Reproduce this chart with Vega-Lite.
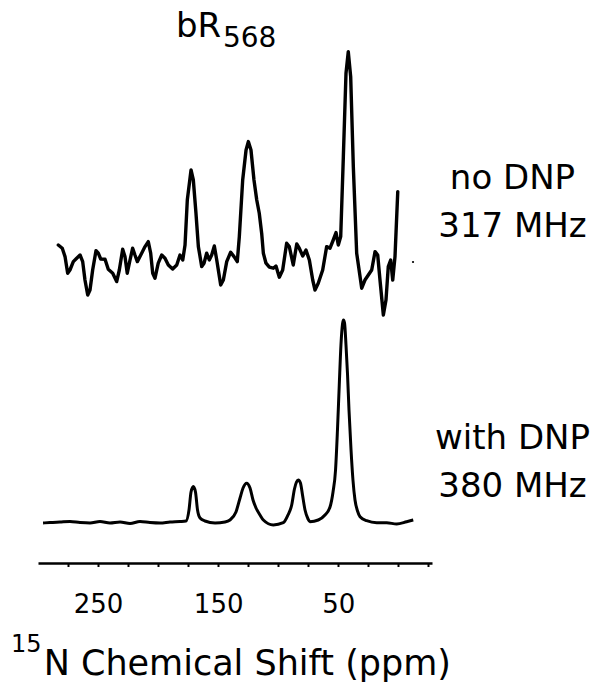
{
  "$schema": "https://vega.github.io/schema/vega-lite/v6.json",
  "width": 394,
  "height": 563,
  "autosize": {"type": "none"},
  "padding": {"left": 38, "top": 0, "right": 169, "bottom": 132},
  "background": "white",
  "config": {"view": {"stroke": null}},
  "datasets": {
    "noDNP": [
      {"ppm":283.1,"intensity":139},{"ppm":279.8,"intensity":137.4},{"ppm":277.5,"intensity":133.2},{"ppm":275.3,"intensity":124.9},{"ppm":273.4,"intensity":126.5},{"ppm":270.6,"intensity":130.7},{"ppm":267.8,"intensity":132.4},{"ppm":265.0,"intensity":134},{"ppm":262.8,"intensity":130.7},{"ppm":260.9,"intensity":121.5},{"ppm":258.6,"intensity":114},{"ppm":256.7,"intensity":116.5},{"ppm":254.5,"intensity":126.5},{"ppm":251.7,"intensity":136.2},{"ppm":249.8,"intensity":134.9},{"ppm":247.8,"intensity":132},{"ppm":244.2,"intensity":131.9},{"ppm":241.5,"intensity":126.9},{"ppm":237.8,"intensity":124.9},{"ppm":234.5,"intensity":120.7},{"ppm":232.3,"intensity":126.5},{"ppm":229.5,"intensity":136.9},{"ppm":227.6,"intensity":133.2},{"ppm":225.7,"intensity":124.9},{"ppm":223.4,"intensity":131.5},{"ppm":221.2,"intensity":137.4},{"ppm":219.3,"intensity":134},{"ppm":217.3,"intensity":130.7},{"ppm":213.7,"intensity":134.9},{"ppm":210.9,"intensity":138.2},{"ppm":208.2,"intensity":140.7},{"ppm":206.2,"intensity":134.9},{"ppm":204.5,"intensity":124.9},{"ppm":202.6,"intensity":122.4},{"ppm":199.9,"intensity":129.9},{"ppm":197.0,"intensity":134},{"ppm":194.3,"intensity":132.4},{"ppm":191.5,"intensity":129},{"ppm":187.9,"intensity":127},{"ppm":184.5,"intensity":129},{"ppm":181.8,"intensity":134},{"ppm":179.5,"intensity":131.5},{"ppm":177.6,"intensity":139},{"ppm":175.7,"intensity":161.5},{"ppm":172.6,"intensity":176.5},{"ppm":170.7,"intensity":171.5},{"ppm":168.5,"intensity":154.9},{"ppm":166.5,"intensity":138.2},{"ppm":163.7,"intensity":128.2},{"ppm":161.8,"intensity":129.9},{"ppm":159.6,"intensity":134.9},{"ppm":157.4,"intensity":131.5},{"ppm":155.4,"intensity":134},{"ppm":153.2,"intensity":138.5},{"ppm":151.2,"intensity":131.5},{"ppm":147.9,"intensity":119},{"ppm":145.7,"intensity":121.5},{"ppm":142.9,"intensity":130.7},{"ppm":139.6,"intensity":135.4},{"ppm":136.8,"intensity":133.2},{"ppm":134.1,"intensity":130.7},{"ppm":132.4,"intensity":143.2},{"ppm":129.6,"intensity":171.5},{"ppm":126.8,"intensity":186.5},{"ppm":124.9,"intensity":190.7},{"ppm":122.7,"intensity":186.5},{"ppm":120.2,"intensity":171.5},{"ppm":117.9,"intensity":161.5},{"ppm":115.8,"intensity":154.9},{"ppm":113.8,"intensity":144.9},{"ppm":112.4,"intensity":134.9},{"ppm":110.2,"intensity":129.9},{"ppm":107.4,"intensity":127.9},{"ppm":104.1,"intensity":127.4},{"ppm":101.9,"intensity":128.5},{"ppm":99.1,"intensity":122.9},{"ppm":96.3,"intensity":126.5},{"ppm":93.0,"intensity":139.9},{"ppm":90.8,"intensity":138.2},{"ppm":87.5,"intensity":129},{"ppm":84.6,"intensity":139.5},{"ppm":82.5,"intensity":137.4},{"ppm":79.6,"intensity":133.5},{"ppm":76.9,"intensity":136.5},{"ppm":74.1,"intensity":131.5},{"ppm":71.3,"intensity":121.5},{"ppm":69.4,"intensity":116.5},{"ppm":66.7,"intensity":119.9},{"ppm":63.0,"intensity":126.5},{"ppm":59.7,"intensity":138.2},{"ppm":56.9,"intensity":137.4},{"ppm":54.2,"intensity":141.5},{"ppm":51.9,"intensity":145.2},{"ppm":50.0,"intensity":139},{"ppm":48.0,"intensity":143.2},{"ppm":45.8,"intensity":183.2},{"ppm":43.6,"intensity":224.9},{"ppm":41.7,"intensity":235.7},{"ppm":39.7,"intensity":223.2},{"ppm":37.5,"intensity":178.2},{"ppm":34.7,"intensity":134.9},{"ppm":30.5,"intensity":117.4},{"ppm":27.8,"intensity":121.5},{"ppm":25.0,"intensity":124},{"ppm":22.2,"intensity":126.5},{"ppm":19.4,"intensity":135.7},{"ppm":17.2,"intensity":134},{"ppm":15.3,"intensity":121.5},{"ppm":12.5,"intensity":104},{"ppm":10.3,"intensity":111.5},{"ppm":8.4,"intensity":128.2},{"ppm":6.4,"intensity":131.5},{"ppm":4.7,"intensity":121.5},{"ppm":2.8,"intensity":133.2},{"ppm":0.5,"intensity":165.7}
    ],
    "withDNP": [
      {"ppm":295.8,"intensity":0},{"ppm":290.0,"intensity":0.25},{"ppm":281.7,"intensity":0.5},{"ppm":273.4,"intensity":0.75},{"ppm":265.0,"intensity":0.25},{"ppm":256.7,"intensity":0},{"ppm":248.4,"intensity":0.75},{"ppm":240.1,"intensity":0},{"ppm":231.7,"intensity":0.5},{"ppm":223.4,"intensity":-0.25},{"ppm":215.1,"intensity":0.75},{"ppm":206.8,"intensity":0.25},{"ppm":198.4,"intensity":0},{"ppm":190.1,"intensity":0.5},{"ppm":181.8,"intensity":0.75},{"ppm":176.8,"intensity":1},{"ppm":174.3,"intensity":6.5},{"ppm":172.6,"intensity":15.5},{"ppm":170.7,"intensity":18.2},{"ppm":168.9,"intensity":15.5},{"ppm":167.2,"intensity":6.5},{"ppm":165.1,"intensity":2.5},{"ppm":161.0,"intensity":1},{"ppm":152.6,"intensity":0},{"ppm":144.3,"intensity":0.5},{"ppm":140.2,"intensity":1.5},{"ppm":135.2,"intensity":5.5},{"ppm":131.8,"intensity":12.5},{"ppm":129.3,"intensity":17.5},{"ppm":126.3,"intensity":19.9},{"ppm":123.5,"intensity":17.5},{"ppm":121.0,"intensity":11.5},{"ppm":118.5,"intensity":7.5},{"ppm":115.2,"intensity":4},{"ppm":112.4,"intensity":1.5},{"ppm":104.1,"intensity":-1},{"ppm":95.8,"intensity":0.15},{"ppm":91.9,"intensity":4},{"ppm":88.8,"intensity":9},{"ppm":86.5,"intensity":17},{"ppm":84.8,"intensity":20.5},{"ppm":83.3,"intensity":21.5},{"ppm":81.5,"intensity":20},{"ppm":79.8,"intensity":14},{"ppm":77.7,"intensity":6.5},{"ppm":75.2,"intensity":2},{"ppm":73.6,"intensity":0.65},{"ppm":66.7,"intensity":1.5},{"ppm":61.1,"intensity":4},{"ppm":56.9,"intensity":8},{"ppm":54.4,"intensity":15.5},{"ppm":52.3,"intensity":26.5},{"ppm":50.7,"intensity":46.5},{"ppm":49.2,"intensity":69},{"ppm":47.8,"intensity":89},{"ppm":46.5,"intensity":99.5},{"ppm":45.7,"intensity":101.5},{"ppm":44.8,"intensity":100},{"ppm":43.6,"intensity":89},{"ppm":42.3,"intensity":74},{"ppm":41.1,"intensity":56.5},{"ppm":39.4,"intensity":36.5},{"ppm":37.8,"intensity":21.5},{"ppm":36.1,"intensity":11.5},{"ppm":34.0,"intensity":6},{"ppm":31.9,"intensity":3.15},{"ppm":26.4,"intensity":1.15},{"ppm":18.0,"intensity":0.15},{"ppm":9.7,"intensity":0.15},{"ppm":1.4,"intensity":-0.5},{"ppm":-6.9,"intensity":0.65},{"ppm":-12.4,"intensity":1.5}
    ],
    "speck": [{"ppm": -12.2, "intensity": 130.5}]
  },
  "encoding": {
    "x": {
      "field": "ppm", "type": "quantitative",
      "scale": {"domain": [-28, 300], "reverse": true, "nice": false, "zero": false},
      "axis": {
        "title": null,
        "values": [275, 250, 225, 200, 175, 150, 125, 100, 75, 50, 25, 0, -25],
        "labelExpr": "datum.value == 250 || datum.value == 150 || datum.value == 50 ? datum.label : ''",
        "labelFont": "DejaVu Sans", "labelFontSize": 26, "labelColor": "black",
        "labelBaseline": "alphabetic", "labelPadding": 46, "labelFlush": false, "labelOverlap": false,
        "tickSize": 3.5, "tickWidth": 2, "tickColor": "black", "tickRound": true,
        "domainColor": "black", "domainWidth": 2.5, "grid": false
      }
    },
    "y": {
      "field": "intensity", "type": "quantitative",
      "scale": {"domain": [-20, 261.5], "nice": false, "zero": false},
      "axis": null
    }
  },
  "layer": [
    {
      "data": {"name": "noDNP"},
      "mark": {"type": "line", "color": "black", "strokeWidth": 3.4, "strokeJoin": "round", "strokeCap": "round"}
    },
    {
      "data": {"name": "withDNP"},
      "mark": {"type": "line", "color": "black", "strokeWidth": 3, "strokeJoin": "round", "interpolate": "monotone"}
    },
    {
      "data": {"name": "speck"},
      "mark": {"type": "point", "filled": true, "color": "black", "size": 5, "opacity": 1}
    },
    {
      "data": {"values": [{"label": "bR", "ppm": 185.1, "intensity": 243}]},
      "mark": {"type": "text", "font": "DejaVu Sans", "fontSize": 34, "align": "left", "baseline": "alphabetic", "color": "black"},
      "encoding": {"text": {"field": "label"}}
    },
    {
      "data": {"values": [{"label": "568", "ppm": 146.0, "intensity": 238}]},
      "mark": {"type": "text", "font": "DejaVu Sans", "fontSize": 28, "align": "left", "baseline": "alphabetic", "color": "black"},
      "encoding": {"text": {"field": "label"}}
    },
    {
      "data": {"values": [
        {"label": "no DNP", "ppm": -95, "intensity": 167},
        {"label": "317 MHz", "ppm": -95, "intensity": 143},
        {"label": "with DNP", "ppm": -95, "intensity": 37},
        {"label": "380 MHz", "ppm": -95, "intensity": 13}
      ]},
      "mark": {"type": "text", "font": "DejaVu Sans", "fontSize": 34, "align": "center", "baseline": "alphabetic", "color": "black"},
      "encoding": {"text": {"field": "label"}}
    },
    {
      "data": {"values": [{"label": "15", "ppm": 322.5, "intensity": -64.5}]},
      "mark": {"type": "text", "font": "DejaVu Sans", "fontSize": 24, "align": "left", "baseline": "alphabetic", "color": "black"},
      "encoding": {"text": {"field": "label"}}
    },
    {
      "data": {"values": [{"label": "N Chemical Shift (ppm)", "ppm": 295.3, "intensity": -76}]},
      "mark": {"type": "text", "font": "DejaVu Sans", "fontSize": 35, "align": "left", "baseline": "alphabetic", "color": "black"},
      "encoding": {"text": {"field": "label"}}
    }
  ]
}
